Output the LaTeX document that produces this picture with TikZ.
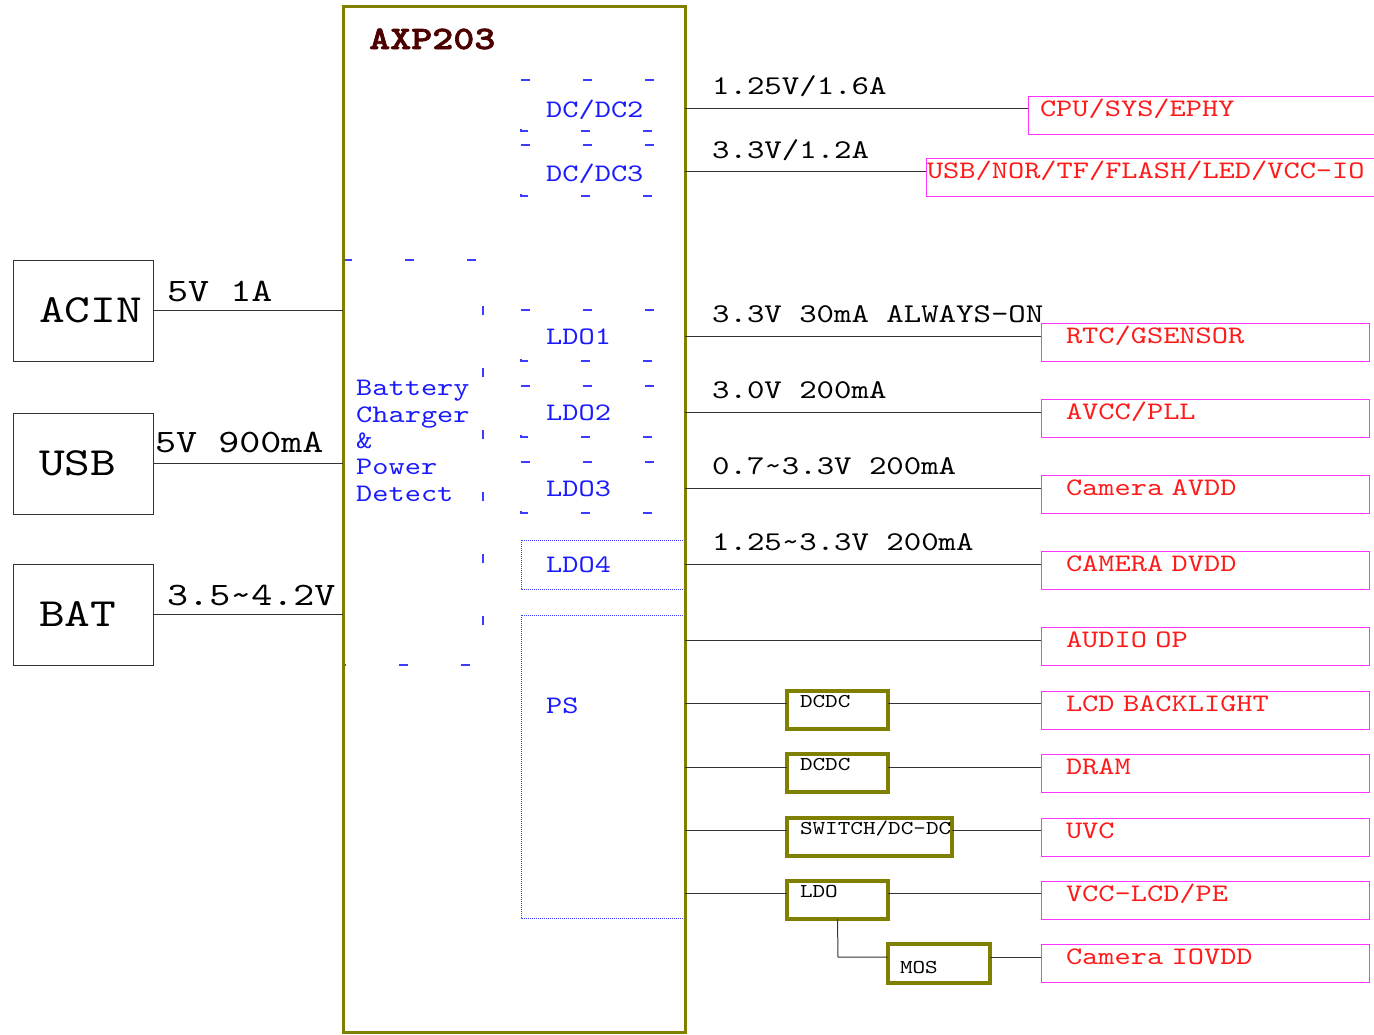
\documentclass[tikz,border=0pt]{standalone}
\usepackage{fontspec}
\setmainfont{lmmono10-regular.otf}[FakeStretch=1.225, BoldFont=lmmonolt10-bold.otf]
\newfontfamily\axpfont{lmmonolt10-bold.otf}[FakeStretch=1.225, FakeBold=2]
\usetikzlibrary{positioning, calc}
\definecolor{olv}{HTML}{808000}
\definecolor{axpRed}{HTML}{4D0000}
\definecolor{blkBlue}{HTML}{1A1AFF}
\definecolor{dshBlue}{HTML}{3C3CFF}
\definecolor{ldRed}{HTML}{FF1A1A}
\definecolor{ldMag}{HTML}{FF33FF}
\definecolor{wr}{HTML}{333333}
\newcommand{\fsz}[1]{\fontsize{#1}{#1}\selectfont}
\tikzset{
  src/.style={draw=black!80, line width=1pt, outer sep=0pt, anchor=north west,
    minimum height=101pt, inner xsep=26pt, inner ysep=0pt, text width=88pt,
    align=left, font=\fsz{40}},
  vin/.style={font=\fsz{32.7}, anchor=base west, inner sep=0pt},
  vout/.style={font=\fsz{27.1}, anchor=base west, inner sep=0pt},
  blk/.style={font=\fsz{25.2}, text=blkBlue, anchor=base west, inner sep=0pt},
  dsh/.style={draw=dshBlue, line width=1.5pt, dash pattern=on 9pt off 53pt},
  dtt/.style={draw=dshBlue, line width=0.8pt, dash pattern=on 1pt off 1pt},
  load/.style={draw=ldMag, line width=1pt, outer sep=0pt, text=ldRed, font=\fsz{25.2},
    anchor=north west, inner xsep=25pt, text width=278pt, inner ysep=0pt,
    text height=20.5pt, text depth=17.5pt, align=left},
  conv/.style={draw=olv, line width=3.5pt, outer sep=0pt, font=\fsz{19.6},
    anchor=north west, inner xsep=13pt, inner ysep=0pt, text width=75pt,
    text height=16pt, text depth=22pt, align=left},
  wire/.style={draw=wr, line width=1pt},
}

\begin{document}
\begin{tikzpicture}[x=1pt, y=-1pt]
\useasboundingbox (0,0) rectangle (1374,1034);

% ── inner blocks of the AXP203 ──────────────────────────────────────────────
\foreach \t/\b in {80/131, 145/196, 310/361, 386/437, 462/513}
  \draw[dsh] (521,\t) -- (685,\t) -- (685,\b) -- (521,\b) -- cycle;
\draw[dsh] (343,260) -- (483,260) -- (483,665) -- (343,665) -- cycle;
\draw[dtt] (521,540) rectangle (685,589);
\draw[dtt] (521,615) rectangle (685,918);

\node[blk] (dcdc2) at (546,117) {DC/DC2};
\node[blk] (dcdc3) at (546,181) {DC/DC3};
\node[blk] (ldo1) at (546,344) {LDO1};
\node[blk] (ldo2) at (546,420) {LDO2};
\node[blk] (ldo3) at (546,496) {LDO3};
\node[blk] (ldo4) at (546,572) {LDO4};
\node[blk] (ps) at (546,713) {PS};
\node[blk, align=left, font=\fontsize{25.2}{26.3}\selectfont] (chg) at (356,501)
  {Battery\\Charger\\\&\\Power\\Detect};

% ── the chip ────────────────────────────────────────────────────────────────
\node[draw=olv, line width=3pt, outer sep=0pt, anchor=north west, inner sep=0pt,
  minimum width=342pt, minimum height=1026pt] (axp) at (343,6) {};
\node[font=\axpfont\fsz{32.7}, text=axpRed, anchor=base west, inner sep=0pt] (axpT)
  at (369,49) {AXP203};

% ── inputs ──────────────────────────────────────────────────────────────────
\node[src] (acin) at (13,260) {ACIN};
\node[src] (usb) at (13,413) {USB};
\node[src] (bat) at (13,564) {BAT};
\draw[wire] (acin.east) -- (acin.east -| axp.west);
\draw[wire] (usb.east) -- (usb.east -| axp.west);
\draw[wire] (bat.east) -- (bat.east -| axp.west);
\node[vin] (vac) at (167,301) {5V 1A};
\node[vin] (vusb) at (155,452) {5V 900mA};
\node[vin] (vbat) at (167,605) {3.5\textasciitilde4.2V};

% ── loads ───────────────────────────────────────────────────────────────────
\node[load, inner xsep=12pt, text width=326pt] (cpu) at (1028,96) {CPU/SYS/EPHY};
\node[load, inner xsep=1pt, text width=450pt] (io) at (926,158) {USB/NOR/TF/FLASH/LED/VCC-IO};
\node[load] (rtc) at (1041,323) {RTC/GSENSOR};
\node[load] (avcc) at (1041,399) {AVCC/PLL};
\node[load] (camA) at (1041,475) {Camera AVDD};
\node[load] (camD) at (1041,551) {CAMERA DVDD};
\node[load] (audio) at (1041,627) {AUDIO OP};
\node[load] (lcd) at (1041,691) {LCD BACKLIGHT};
\node[load] (dram) at (1041,754) {DRAM};
\node[load] (uvc) at (1041,818) {UVC};
\node[load] (vlcd) at (1041,881) {VCC-LCD/PE};
\node[load] (iovdd) at (1041,944) {Camera IOVDD};

% ── converters outside the chip ─────────────────────────────────────────────
\node[conv] (dc1) at (787,691) {DCDC};
\node[conv] (dc2) at (787,754) {DCDC};
\node[conv, text width=139pt] (sw) at (787,818) {\mbox{SWITCH/DC-DC}};
\node[conv] (ldo) at (787,881) {LDO};
\node[conv, inner xsep=12pt, text width=78pt, text height=29pt, text depth=10pt]
  (mos) at (888,944) {MOS};

% ── rails ───────────────────────────────────────────────────────────────────
\coordinate (p1) at (685,108);
\coordinate (p2) at (685,171);
\coordinate (p3) at (685,336);
\coordinate (p4) at (685,412);
\coordinate (p5) at (685,488);
\coordinate (p6) at (685,564);
\coordinate (p7) at (685,640);
\coordinate (p8) at (685,703);
\coordinate (p9) at (685,767);
\coordinate (p10) at (685,830);
\coordinate (p11) at (685,893);
\coordinate (m) at (838,957);
\draw[wire] (p1) -- (p1 -| cpu.west);
\draw[wire] (p2) -- (p2 -| io.west);
\draw[wire] (p3) -- (p3 -| rtc.west);
\draw[wire] (p4) -- (p4 -| avcc.west);
\draw[wire] (p5) -- (p5 -| camA.west);
\draw[wire] (p6) -- (p6 -| camD.west);
\draw[wire] (p7) -- (p7 -| audio.west);
\draw[wire] (p8) -- (p8 -| dc1.west);
\draw[wire] (p8 -| dc1.east) -- (p8 -| lcd.west);
\draw[wire] (p9) -- (p9 -| dc2.west);
\draw[wire] (p9 -| dc2.east) -- (p9 -| dram.west);
\draw[wire] (p10) -- (p10 -| sw.west);
\draw[wire] (p10 -| sw.east) -- (p10 -| uvc.west);
\draw[wire] (p11) -- (p11 -| ldo.west);
\draw[wire] (p11 -| ldo.east) -- (p11 -| vlcd.west);
\draw[wire] (ldo.south) -- (m) -- (m -| mos.west);
\draw[wire] (m -| mos.east) -- (m -| iovdd.west);

\node[vout] (v1) at (712,94) {1.25V/1.6A};
\node[vout] (v2) at (712,158) {3.3V/1.2A};
\node[vout] (v3) at (712,322) {3.3V 30mA ALWAYS-ON};
\node[vout] (v4) at (712,398) {3.0V 200mA};
\node[vout] (v5) at (712,474) {0.7\textasciitilde3.3V 200mA};
\node[vout] (v6) at (712,550) {1.25\textasciitilde3.3V 200mA};

\end{tikzpicture}
\end{document}
